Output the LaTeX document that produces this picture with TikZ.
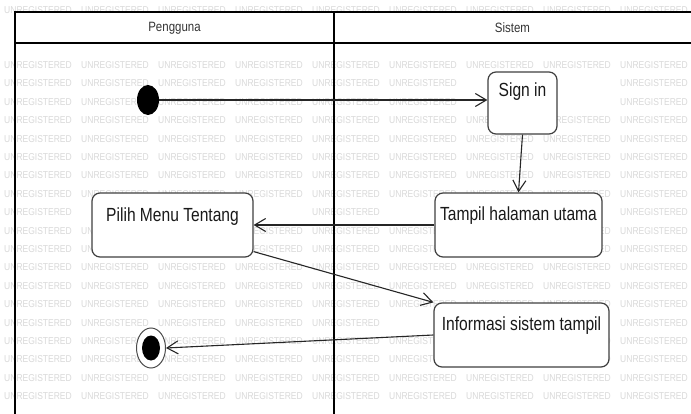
\documentclass[tikz,border=0pt]{standalone}
\usepackage{fontspec}
\setmainfont[FakeStretch=0.85]{Liberation Sans}
\newfontfamily\actfont[FakeStretch=0.82]{Liberation Sans}
\usetikzlibrary{arrows.meta,shapes.geometric,calc}
\begin{document}
\begin{tikzpicture}[x=1pt,y=-1pt,
 act/.style={draw=black!75, line width=1.2pt, rounded corners=8pt, fill=white, inner sep=0pt, font=\actfont\fontsize{19}{19}\selectfont, text=black!90},
 flow/.style={draw=black!85, line width=1.1pt, -{Straight Barb[length=11pt,width=13pt,line width=1.1pt]}},
 lane/.style={draw=black, line width=1.6pt},
 wmark/.style={text=gray!30, font=\fontsize{10}{10}\selectfont, inner sep=0pt},
 head/.style={font=\fontsize{13.5}{13.5}\selectfont, text=black!80, inner sep=0pt}]
\useasboundingbox (0,0) rectangle (691,414);
\fill[white] (0,0) rectangle (691,414);
% watermark (left out only where it would cross a label)
\foreach \r in {-3,...,18}{\foreach \c in {0,...,8}{%
  \pgfmathsetmacro\wx{38+77*\c}%
  \pgfmathsetmacro\wy{65+18.4*\r}%
  \pgfmathtruncatemacro\hide{%
    (\wx+35>15)*(\wx-35<691)*(\wy+4>16)*(\wy-4<43)
   +(\wx+35>497)*(\wx-35<548)*(\wy+4>83)*(\wy-4<103)
   +(\wx+35>440)*(\wx-35<597)*(\wy+4>205)*(\wy-4<226)
   +(\wx+35>105)*(\wx-35<239)*(\wy+4>204)*(\wy-4<226)
   +(\wx+35>441)*(\wx-35<602)*(\wy+4>313)*(\wy-4<336)}%
  \ifnum\hide=0 \node[wmark] (wm-\r-\c) at (\wx,\wy) {UNREGISTERED};\fi}}
% swimlanes
\fill[white] (15,12) rectangle (691,43);
\draw[lane] (691,12) -- (15,12) -- (15,414);
\draw[lane] (15,43) -- (691,43);
\draw[lane] (334,12) -- (334,414);
\node[head] (hp) at (174.5,28) {Pengguna};
\node[head] (hs) at (512.5,28) {Sistem};
% nodes
\node[ellipse, fill=black, minimum width=22pt, minimum height=30pt, inner sep=0pt] (init) at (148,100) {};
\node[act, minimum width=69pt, text height=25pt, text depth=37pt] (signin) at (522.5,103) {Sign in};
\node[act, minimum width=167pt, text height=28pt, text depth=36pt] (tampil) at (518.5,225) {Tampil halaman utama};
\node[act, minimum width=161pt, text height=29pt, text depth=35pt] (pilih) at (172.5,225) {Pilih Menu Tentang};
\node[act, minimum width=175pt, text height=27pt, text depth=37pt] (info) at (521.5,335) {Informasi sistem tampil};
\node[ellipse, draw=black!70, line width=1pt, fill=white, minimum width=29pt, minimum height=40pt, inner sep=0pt] (fin) at (151,348) {};
\node[ellipse, fill=black, minimum width=18pt, minimum height=25pt, inner sep=0pt] (finin) at (fin.center) {};
% flows
\draw[flow] (init.east) -- (init.east -| signin.west);
\draw[flow] (signin.south) -- (tampil.north);
\draw[flow] (tampil.west) -- (pilih.east);
\draw[flow] ($(pilih.south east)+(0,-6)$) -- (info.north west);
\draw[flow] (info.west) -- (fin.east);
\end{tikzpicture}
\end{document}
